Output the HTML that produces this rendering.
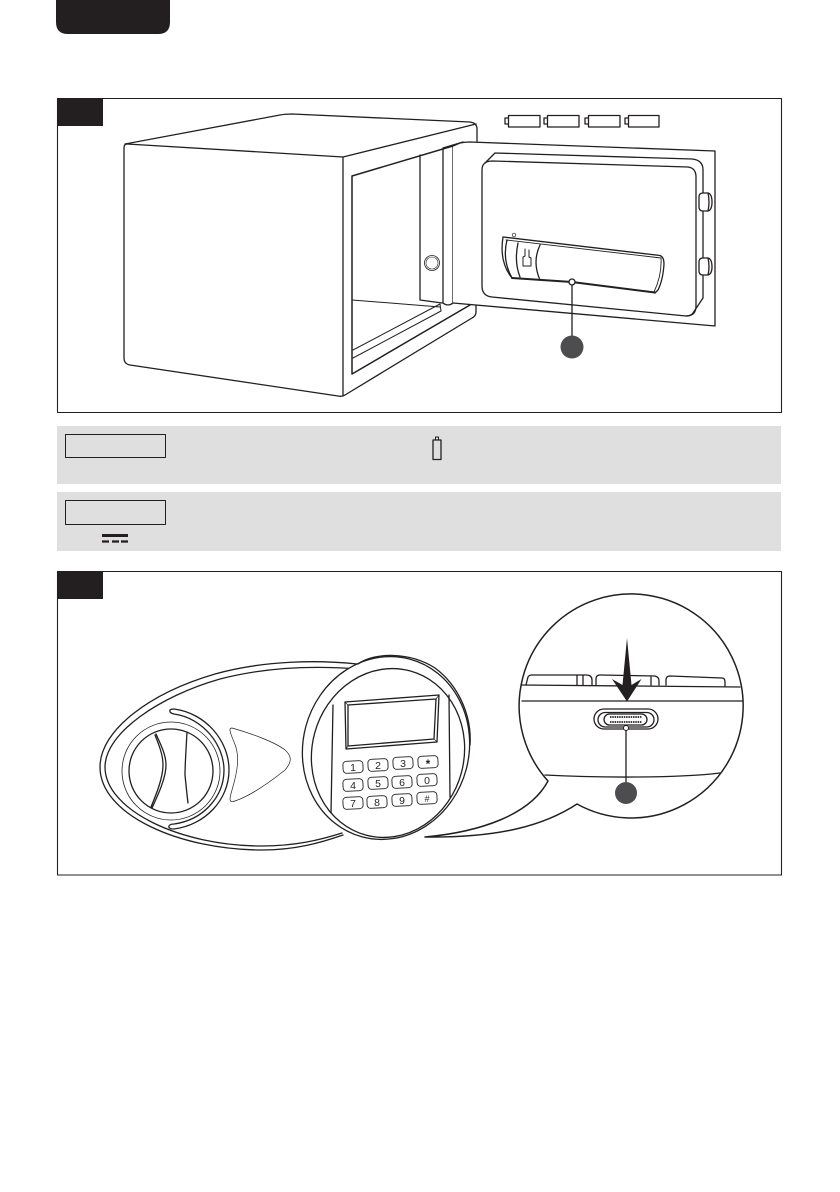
<!DOCTYPE html>
<html><head><meta charset="utf-8"><style>
html,body{margin:0;padding:0;background:#fff;width:840px;height:1192px;overflow:hidden}
svg{display:block}
text{font-family:"Liberation Sans",sans-serif;fill:#231f20;text-anchor:middle}
</style></head><body>
<svg width="840" height="1192" viewBox="0 0 840 1192" fill="none" stroke="#231f20" stroke-width="1.300" stroke-linejoin="round" stroke-linecap="round">
<path d="M56 0H170V22Q170 34 158 34H68Q56 34 56 22Z" fill="#231f20" stroke="none"/>
<!-- frame 1 -->
<rect x="57.500" y="98.500" width="724" height="314" stroke-width="1.100"/>
<rect x="57" y="98" width="46" height="28" fill="#231f20" stroke="none"/>
<!-- safe -->
<path d="M343 157 L127 144 Q124 144 124 148 L124 358 Q124 364 130 365 L338 396 Q342 397 345 395"/>
<path d="M125 144 L280 115 Q285 114 292 114 L470 122 Q477 123 477 129 V142"/>
<path d="M343 157 L476 124 M343 157 V396"/>
<path d="M345 395 L472 318 Q476 316 476 312 V305"/>
<path d="M352 176 L463 143 M352 176 V374 L470 305" stroke-width="1.500"/>
<path d="M420 155 V300 L442 303 M443 148 V303 M453 145 V303"/>
<path d="M352 300 L440 307 M353 350 L440 304 L441 311 L353 358" stroke-width="1"/>
<path d="M443 303 Q448 307 453 303"/>
<circle cx="432" cy="263" r="7.500" stroke-width=".8"/><circle cx="432" cy="263" r="6" stroke-width=".6"/>
<!-- door -->
<path d="M453 303 L715 326 V151 L470 142 Q465 142 460 143 L453 146" stroke-width="1.300" fill="#fff"/>
<path d="M443 148 L463 142"/>
<path d="M485 163 Q487 161 493 161 L688 167 Q696 168 696 177 V306 Q696 316 686 316 L492 297 Q482 296 482 286 V170 Q482 165 485 163 Z" stroke-width="1.300"/>
<path d="M485 163 L495 153 L692 159 Q703 160 703 170 V298 L693 313 Q691 316 686 316" stroke-width="1.300"/>
<path d="M703 193 Q699 193 699 197 V207 Q699 211 703 211 H708 Q712 210 712 202 Q712 194 708 193 Z" fill="#fff"/>
<path d="M708 193 Q710 202 708 211"/>
<path d="M703 258 Q699 258 699 262 V271 Q699 275 703 275 H708 Q712 274 712 267 Q712 259 708 258 Z" fill="#fff"/>
<path d="M708 258 Q710 267 708 275"/>
<!-- compartment -->
<path d="M503 237 L660 255.500 Q664 257 664 264 Q663 280 658 290 L655 293" stroke-width="1.300"/>
<path d="M503 237 Q499 262 512 278"/>
<path d="M655 292.500 L572 282 L512 278" stroke-width="2"/>
<path d="M506 240 L661 258 Q662 275 654 292" stroke-width=".9"/>
<path d="M507 240 Q502 260 512 278 M518 243 Q514 262 520 277 M540 245 Q532 262 540 280"/>
<path d="M525 249 V256 L523 257 V266 H531 V258 L529 257 V250" stroke-width="1"/>
<circle cx="514" cy="235" r="1.800" stroke-width=".7" fill="#fff"/>
<path d="M572 283 V340"/>
<circle cx="572" cy="282" r="3" fill="#fff"/>
<circle cx="572" cy="347" r="11.500" fill="#4d4d4f" stroke="none"/>
<!-- batteries -->
<path d="M508.500 115.500 H540 V127 H508.500 Z M508 118 H505 V124 H508"/>
<path d="M547.500 115.500 H579 V127 H547.500 Z M547 118 H544 V124 H547"/>
<path d="M588.500 115.500 H620 V127 H588.500 Z M588 118 H585 V124 H588"/>
<path d="M628.500 115.500 H659 V127 H628.500 Z M628 118 H625 V124 H628"/>
<!-- notes -->
<rect x="57" y="426" width="724" height="58" fill="#dfdfdf" stroke="none"/>
<rect x="57" y="492" width="724" height="59" fill="#dfdfdf" stroke="none"/>
<rect x="65.500" y="434.500" width="100" height="23" stroke-width="1"/>
<rect x="65.500" y="500.500" width="100" height="24" stroke-width="1"/>
<rect x="433" y="440" width="8" height="19.500" stroke-width="1.300"/>
<rect x="435.500" y="437" width="3" height="3" stroke-width="1"/>
<rect x="102" y="534" width="26" height="3" fill="#231f20" stroke="none"/>
<path d="M102 541.500 H109 M112 541.500 H119 M121 541.500 H128" stroke-width="2.200" stroke-linecap="butt"/>
<!-- frame 2 -->
<rect x="57.500" y="571.500" width="724" height="303.500" stroke-width="1.100"/>
<rect x="57" y="571" width="46" height="28" fill="#231f20" stroke="none"/>
<!-- lock body -->
<path d="M357 664 C320 660 265 660 215 674 C150 693 100 730 100 767 C100 815 180 850 262 850 C295 850 320 843 343 835"/>
<path d="M358 669 C320 666 270 666 220 679 C160 696 105 733 105 767 C105 810 180 846 262 846 C295 846 320 840 342 833"/>
<circle cx="171" cy="771" r="49" stroke-width=".8"/>
<circle cx="171" cy="771" r="42"/>
<path d="M174 709 C205 713 229 740 229 770 C229 800 205 825 174 829 Q168 829 169 826 Q170 824 174 824 C203 820 224 797 224 770 C224 745 203 718 174 714 Q169 713 170 710 Q171 709 174 709 Z"/>
<path d="M156 734 C161 745 166 755 166 765 C166 778 158 795 152 808 M155 735 C159 745 163 755 163 765 C163 778 156 795 151 807"/>
<path d="M187 732 C186 750 185 765 185 775 C186 785 187 795 188 803"/>
<path d="M232 728 C250 733 275 742 285 750 C292 756 292 762 285 770 C270 782 250 796 235 801 C229 803 229 800 232 790 C238 770 240 755 234 742 C229 730 229 728 232 728 Z" stroke-width=".7"/>
<!-- keypad -->
<ellipse cx="386" cy="748" rx="83" ry="92" transform="rotate(15 386 748)" fill="#fff"/>
<path d="M358 664 C375 652 410 652 435 668 C458 685 472 715 470 745" />
<ellipse cx="388" cy="753" rx="76" ry="85" transform="rotate(15 388 753)"/>
<path d="M345 702 L439 695 L437 742 L346 749 Z"/>
<path d="M348 705 L436 699 L434 739 L348 746 Z"/>
<path d="M345 702 L348 705 M439 695 L436 699 M437 742 L434 739 M346 749 L348 746" stroke-width=".7"/>
<path d="M333 705 L331 813 M449 695 L450 797"/>
<g stroke-width=".9">
<rect x="343" y="761" width="20" height="12" rx="3.500" transform="rotate(-3 353 767)"/>
<rect x="368" y="759" width="20" height="12" rx="3.500" transform="rotate(-3 378 765)"/>
<rect x="393" y="757" width="20" height="12" rx="3.500" transform="rotate(-3 403 763)"/>
<rect x="418" y="756" width="20" height="12" rx="3.500" transform="rotate(-3 428 762)"/>
<rect x="343" y="779" width="20" height="12" rx="3.500" transform="rotate(-3 353 785)"/>
<rect x="368" y="777" width="20" height="12" rx="3.500" transform="rotate(-3 378 783)"/>
<rect x="392" y="776" width="20" height="12" rx="3.500" transform="rotate(-3 402 782)"/>
<rect x="417" y="774" width="20" height="12" rx="3.500" transform="rotate(-3 427 780)"/>
<rect x="343" y="797" width="20" height="12" rx="3.500" transform="rotate(-3 353 803)"/>
<rect x="367" y="796" width="20" height="12" rx="3.500" transform="rotate(-3 377 802)"/>
<rect x="392" y="794" width="20" height="12" rx="3.500" transform="rotate(-3 402 800)"/>
<rect x="417" y="792" width="20" height="12" rx="3.500" transform="rotate(-3 427 798)"/>
</g>
<g font-size="10.500" stroke="none">
<text x="353" y="771">1</text><text x="378" y="769">2</text><text x="403" y="767">3</text><text x="428" y="768" font-weight="bold" font-size="12">*</text>
<text x="353" y="789">4</text><text x="378" y="787">5</text><text x="402" y="786">6</text><text x="427" y="784">0</text>
<text x="353" y="807">7</text><text x="377" y="806">8</text><text x="402" y="804">9</text><text x="427" y="802" font-size="9">#</text>
</g>
<!-- magnifier bubble -->
<path d="M548 781 A112 112 0 1 1 577 804 C545 825 500 838 425 837 C480 832 530 815 548 781 Z" stroke-width="1.500"/>
<path d="M522 685 L740 687 M522 701 L742 701"/>
<path d="M545 775 C600 778 680 778 720 773"/>
<path d="M526 685 L528 677 Q529 675 532 675 L586 675 Q592 675 592 680 V685 M577 675 V685 M583 675 V685"/>
<path d="M596 685 V679 Q596 675 600 675 L655 676 Q659 677 659 681 V685 M651 676 V685"/>
<path d="M666 685 V680 Q666 676 670 676 L722 678 Q725 678 725 682 V686"/>
<path d="M627 638 L631.500 685 L641.500 679 L627 701.500 L612 679 L622.500 685 Z" fill="#231f20" stroke="none"/>
<rect x="594" y="709" width="64" height="20" rx="10"/>
<rect x="598" y="712.500" width="56" height="14.500" rx="7.250"/>
<rect x="604" y="714" width="43" height="11" rx="5.500"/>
<path d="M610 717 H642 M610 722 H642" stroke-width="1.800" stroke-dasharray="1.500 .8" stroke-linecap="butt"/>
<path d="M626 730 V785"/>
<circle cx="626" cy="728" r="2.500" fill="#fff" stroke-width="1"/>
<circle cx="626" cy="793" r="11" fill="#4d4d4f" stroke="none"/>
</svg>
</body></html>
